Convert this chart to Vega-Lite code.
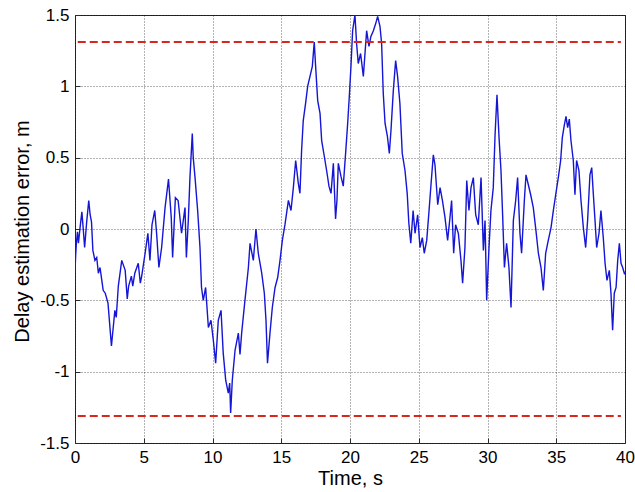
{
  "$schema": "https://vega.github.io/schema/vega-lite/v6.json",
  "width": 550,
  "height": 428,
  "autosize": "none",
  "padding": {"left": 75, "top": 15, "right": 10, "bottom": 49},
  "background": "white",
  "config": {
    "view": {"stroke": "#2b2b2b", "strokeWidth": 1},
    "font": "Liberation Sans",
    "axis": {
      "grid": true,
      "gridDash": [1, 2],
      "gridColor": "#000000",
      "gridOpacity": 0.6,
      "gridWidth": 1,
      "domain": false,
      "tickColor": "#2b2b2b",
      "tickSize": -5,
      "labelFlush": false,
      "labelFont": "Liberation Sans",
      "labelFontSize": 17,
      "labelColor": "#000000",
      "titleFont": "Liberation Sans",
      "titleFontSize": 20,
      "titleFontWeight": "normal",
      "titleColor": "#000000"
    }
  },
  "datasets": {
    "err": [
      {"t": 0.0, "v": -0.3}, {"t": 0.05, "v": -0.18}, {"t": 0.1, "v": -0.1}, {"t": 0.18, "v": -0.02}, {"t": 0.25, "v": -0.1}, {"t": 0.38, "v": 0.02}, {"t": 0.5, "v": 0.12},
      {"t": 0.6, "v": 0.0}, {"t": 0.7, "v": -0.13}, {"t": 0.85, "v": 0.05}, {"t": 1.0, "v": 0.2}, {"t": 1.1, "v": 0.1}, {"t": 1.2, "v": 0.05}, {"t": 1.3, "v": -0.15},
      {"t": 1.45, "v": -0.22}, {"t": 1.58, "v": -0.2}, {"t": 1.7, "v": -0.31}, {"t": 1.82, "v": -0.27}, {"t": 1.95, "v": -0.36}, {"t": 2.05, "v": -0.43},
      {"t": 2.2, "v": -0.45}, {"t": 2.4, "v": -0.52}, {"t": 2.55, "v": -0.7}, {"t": 2.65, "v": -0.82},
      {"t": 2.75, "v": -0.72}, {"t": 2.9, "v": -0.57}, {"t": 3.0, "v": -0.62}, {"t": 3.15, "v": -0.4}, {"t": 3.4, "v": -0.22},
      {"t": 3.65, "v": -0.29}, {"t": 3.8, "v": -0.49}, {"t": 3.9, "v": -0.4}, {"t": 4.1, "v": -0.33},
      {"t": 4.2, "v": -0.4}, {"t": 4.35, "v": -0.31}, {"t": 4.6, "v": -0.24}, {"t": 4.75, "v": -0.38}, {"t": 4.85, "v": -0.33},
      {"t": 5.1, "v": -0.17}, {"t": 5.3, "v": -0.03}, {"t": 5.45, "v": -0.22}, {"t": 5.6, "v": 0.03},
      {"t": 5.8, "v": 0.13}, {"t": 5.95, "v": -0.05}, {"t": 6.1, "v": -0.27}, {"t": 6.3, "v": -0.13}, {"t": 6.55, "v": 0.15},
      {"t": 6.8, "v": 0.35}, {"t": 7.0, "v": 0.08}, {"t": 7.1, "v": -0.2}, {"t": 7.3, "v": 0.22},
      {"t": 7.5, "v": 0.2}, {"t": 7.75, "v": -0.03}, {"t": 8.0, "v": 0.15}, {"t": 8.1, "v": -0.2},
      {"t": 8.24, "v": 0.06}, {"t": 8.36, "v": 0.36}, {"t": 8.53, "v": 0.67}, {"t": 8.6, "v": 0.5},
      {"t": 8.73, "v": 0.36}, {"t": 8.92, "v": 0.13}, {"t": 9.09, "v": -0.13}, {"t": 9.2, "v": -0.41},
      {"t": 9.33, "v": -0.5}, {"t": 9.5, "v": -0.41}, {"t": 9.7, "v": -0.69}, {"t": 9.89, "v": -0.64},
      {"t": 10.06, "v": -0.78}, {"t": 10.23, "v": -0.94}, {"t": 10.42, "v": -0.64}, {"t": 10.62, "v": -0.57},
      {"t": 10.78, "v": -0.87}, {"t": 10.96, "v": -1.06}, {"t": 11.15, "v": -1.15}, {"t": 11.25, "v": -1.08},
      {"t": 11.32, "v": -1.29}, {"t": 11.44, "v": -1.06}, {"t": 11.64, "v": -0.85}, {"t": 11.88, "v": -0.73},
      {"t": 12.0, "v": -0.88}, {"t": 12.12, "v": -0.73}, {"t": 12.36, "v": -0.5}, {"t": 12.61, "v": -0.27},
      {"t": 12.73, "v": -0.1}, {"t": 12.97, "v": -0.22}, {"t": 13.16, "v": 0.0}, {"t": 13.33, "v": -0.17},
      {"t": 13.58, "v": -0.31}, {"t": 13.77, "v": -0.45}, {"t": 13.89, "v": -0.64}, {"t": 14.0, "v": -0.94},
      {"t": 14.18, "v": -0.73}, {"t": 14.35, "v": -0.55}, {"t": 14.55, "v": -0.41}, {"t": 14.74, "v": -0.34},
      {"t": 14.91, "v": -0.22}, {"t": 15.08, "v": -0.08}, {"t": 15.27, "v": 0.03}, {"t": 15.52, "v": 0.2},
      {"t": 15.71, "v": 0.13}, {"t": 15.88, "v": 0.29}, {"t": 16.05, "v": 0.48}, {"t": 16.24, "v": 0.32},
      {"t": 16.36, "v": 0.25}, {"t": 16.48, "v": 0.55}, {"t": 16.6, "v": 0.76}, {"t": 16.77, "v": 0.88},
      {"t": 16.92, "v": 1.0}, {"t": 17.09, "v": 1.07}, {"t": 17.26, "v": 1.14}, {"t": 17.4, "v": 1.31},
      {"t": 17.5, "v": 1.14}, {"t": 17.65, "v": 0.9}, {"t": 17.82, "v": 0.81}, {"t": 17.94, "v": 0.62},
      {"t": 18.13, "v": 0.51}, {"t": 18.3, "v": 0.41}, {"t": 18.47, "v": 0.3}, {"t": 18.62, "v": 0.25},
      {"t": 18.79, "v": 0.46}, {"t": 18.95, "v": 0.07}, {"t": 19.05, "v": 0.2}, {"t": 19.15, "v": 0.46},
      {"t": 19.34, "v": 0.37}, {"t": 19.51, "v": 0.3}, {"t": 19.68, "v": 0.53}, {"t": 19.83, "v": 0.74},
      {"t": 19.95, "v": 0.93}, {"t": 20.07, "v": 1.14}, {"t": 20.19, "v": 1.39}, {"t": 20.36, "v": 1.5},
      {"t": 20.48, "v": 1.3}, {"t": 20.6, "v": 1.16}, {"t": 20.77, "v": 1.23}, {"t": 20.97, "v": 1.07},
      {"t": 21.09, "v": 1.23}, {"t": 21.21, "v": 1.39}, {"t": 21.38, "v": 1.28}, {"t": 21.52, "v": 1.35},
      {"t": 21.7, "v": 1.39}, {"t": 21.87, "v": 1.44}, {"t": 22.01, "v": 1.49}, {"t": 22.18, "v": 1.42},
      {"t": 22.3, "v": 1.3}, {"t": 22.42, "v": 0.95}, {"t": 22.55, "v": 0.74}, {"t": 22.72, "v": 0.65},
      {"t": 22.86, "v": 0.53}, {"t": 22.98, "v": 0.69}, {"t": 23.15, "v": 0.97}, {"t": 23.32, "v": 1.18},
      {"t": 23.46, "v": 1.07}, {"t": 23.63, "v": 0.88}, {"t": 23.8, "v": 0.53}, {"t": 24.0, "v": 0.41},
      {"t": 24.16, "v": 0.25}, {"t": 24.28, "v": 0.04}, {"t": 24.42, "v": -0.1}, {"t": 24.59, "v": 0.13},
      {"t": 24.73, "v": -0.03}, {"t": 24.92, "v": 0.1}, {"t": 25.09, "v": -0.13}, {"t": 25.26, "v": -0.06},
      {"t": 25.4, "v": -0.17}, {"t": 25.58, "v": -0.08}, {"t": 25.75, "v": 0.13}, {"t": 25.89, "v": 0.31},
      {"t": 26.06, "v": 0.52}, {"t": 26.18, "v": 0.45}, {"t": 26.38, "v": 0.17}, {"t": 26.55, "v": 0.29},
      {"t": 26.72, "v": 0.2}, {"t": 26.91, "v": 0.08}, {"t": 27.1, "v": -0.08}, {"t": 27.27, "v": 0.08},
      {"t": 27.39, "v": 0.2}, {"t": 27.54, "v": -0.17}, {"t": 27.68, "v": 0.03}, {"t": 27.88, "v": -0.03},
      {"t": 28.07, "v": -0.22}, {"t": 28.19, "v": -0.38}, {"t": 28.36, "v": -0.13}, {"t": 28.49, "v": 0.34},
      {"t": 28.65, "v": 0.13}, {"t": 28.8, "v": 0.29}, {"t": 28.97, "v": 0.36}, {"t": 29.14, "v": 0.1},
      {"t": 29.33, "v": 0.03}, {"t": 29.53, "v": 0.36}, {"t": 29.7, "v": -0.15}, {"t": 29.82, "v": 0.06},
      {"t": 29.94, "v": -0.5}, {"t": 30.11, "v": -0.13}, {"t": 30.25, "v": 0.13}, {"t": 30.42, "v": 0.29},
      {"t": 30.55, "v": 0.66}, {"t": 30.69, "v": 0.94}, {"t": 30.84, "v": 0.64}, {"t": 30.98, "v": 0.41},
      {"t": 31.1, "v": 0.1}, {"t": 31.23, "v": -0.27}, {"t": 31.39, "v": -0.1}, {"t": 31.56, "v": -0.27},
      {"t": 31.71, "v": -0.55}, {"t": 31.88, "v": 0.06}, {"t": 32.05, "v": 0.2}, {"t": 32.19, "v": 0.36},
      {"t": 32.36, "v": -0.03}, {"t": 32.48, "v": -0.17}, {"t": 32.68, "v": 0.2}, {"t": 32.8, "v": 0.38},
      {"t": 32.97, "v": 0.31}, {"t": 33.14, "v": 0.24}, {"t": 33.33, "v": 0.15}, {"t": 33.5, "v": 0.01},
      {"t": 33.7, "v": -0.17}, {"t": 33.89, "v": -0.27}, {"t": 34.06, "v": -0.43}, {"t": 34.23, "v": -0.17},
      {"t": 34.42, "v": -0.08}, {"t": 34.62, "v": 0.01}, {"t": 34.79, "v": 0.13}, {"t": 34.96, "v": 0.24},
      {"t": 35.15, "v": 0.36}, {"t": 35.32, "v": 0.48}, {"t": 35.44, "v": 0.64}, {"t": 35.59, "v": 0.73},
      {"t": 35.71, "v": 0.79}, {"t": 35.83, "v": 0.71}, {"t": 35.95, "v": 0.77}, {"t": 36.07, "v": 0.62},
      {"t": 36.24, "v": 0.48}, {"t": 36.36, "v": 0.24}, {"t": 36.48, "v": 0.48}, {"t": 36.65, "v": 0.41},
      {"t": 36.8, "v": 0.2}, {"t": 36.97, "v": 0.01}, {"t": 37.14, "v": -0.13}, {"t": 37.28, "v": 0.06},
      {"t": 37.45, "v": 0.38}, {"t": 37.58, "v": 0.43}, {"t": 37.7, "v": 0.24}, {"t": 37.82, "v": 0.06},
      {"t": 37.94, "v": -0.13}, {"t": 38.11, "v": -0.03}, {"t": 38.25, "v": 0.13}, {"t": 38.42, "v": -0.06},
      {"t": 38.55, "v": -0.24}, {"t": 38.69, "v": -0.36}, {"t": 38.86, "v": -0.29}, {"t": 38.98, "v": -0.45},
      {"t": 39.1, "v": -0.71}, {"t": 39.22, "v": -0.45}, {"t": 39.35, "v": -0.41}, {"t": 39.47, "v": -0.22},
      {"t": 39.59, "v": -0.1}, {"t": 39.71, "v": -0.24}, {"t": 39.83, "v": -0.27}, {"t": 39.95, "v": -0.31},
      {"t": 40.0, "v": -0.3}
    ],
    "lim": [
      {"t": 0.2, "v": 1.31, "g": "upper"}, {"t": 39.7, "v": 1.31, "g": "upper"},
      {"t": 0.2, "v": -1.31, "g": "lower"}, {"t": 39.7, "v": -1.31, "g": "lower"}
    ]
  },
  "layer": [
    {
      "data": {"name": "err"},
      "mark": {"type": "line", "color": "#1515d6", "strokeWidth": 1.4, "clip": true},
      "encoding": {
        "x": {
          "field": "t", "type": "quantitative",
          "scale": {"domain": [0, 40], "nice": false, "zero": false},
          "axis": {"values": [0, 5, 10, 15, 20, 25, 30, 35, 40], "title": "Time, s", "labelPadding": 11, "titlePadding": 3, "labelExpr": "toString(datum.value)"}
        },
        "y": {
          "field": "v", "type": "quantitative",
          "scale": {"domain": [-1.5, 1.5], "nice": false, "zero": false},
          "axis": {"values": [-1.5, -1, -0.5, 0, 0.5, 1, 1.5], "title": "Delay estimation error, m", "labelPadding": 11, "titleX": -53, "titleY": 216, "titleAngle": -90, "titleAlign": "center", "titleBaseline": "middle", "labelExpr": "toString(datum.value)"}
        }
      }
    },
    {
      "data": {"name": "lim"},
      "mark": {"type": "line", "color": "#d8281e", "strokeWidth": 2, "strokeDash": [8, 4]},
      "encoding": {
        "x": {"field": "t", "type": "quantitative"},
        "y": {"field": "v", "type": "quantitative"},
        "detail": {"field": "g", "type": "nominal"}
      }
    }
  ]
}
